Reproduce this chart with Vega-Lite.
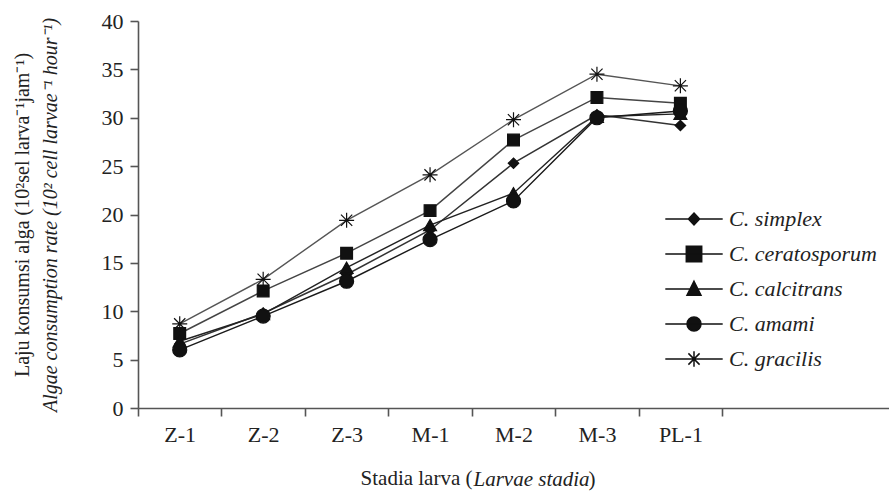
{
  "$schema": "https://vega.github.io/schema/vega-lite/v6.json",
  "width": 751,
  "height": 387,
  "autosize": "none",
  "padding": {"left": 138, "top": 21, "right": 0, "bottom": 85},
  "background": "white",
  "config": {
    "view": {"stroke": null},
    "font": "Liberation Serif",
    "axis": {
      "labelFont": "Liberation Serif",
      "titleFont": "Liberation Serif",
      "labelColor": "#222",
      "titleColor": "#222",
      "titleFontWeight": "normal",
      "domainColor": "#555",
      "tickColor": "#555",
      "domainWidth": 1.6,
      "tickWidth": 1.6,
      "grid": false
    },
    "legend": {
      "labelFont": "Liberation Serif",
      "titleFont": "Liberation Serif"
    }
  },
  "data": {
    "values": [
      {"stage": "Z-1", "species": "C. simplex", "value": 6.6},
      {"stage": "Z-2", "species": "C. simplex", "value": 9.8},
      {"stage": "Z-3", "species": "C. simplex", "value": 13.8},
      {"stage": "M-1", "species": "C. simplex", "value": 18.4},
      {"stage": "M-2", "species": "C. simplex", "value": 25.3},
      {"stage": "M-3", "species": "C. simplex", "value": 30.3},
      {"stage": "PL-1", "species": "C. simplex", "value": 29.2},
      {"stage": "Z-1", "species": "C. ceratosporum", "value": 7.7},
      {"stage": "Z-2", "species": "C. ceratosporum", "value": 12.1},
      {"stage": "Z-3", "species": "C. ceratosporum", "value": 16.0},
      {"stage": "M-1", "species": "C. ceratosporum", "value": 20.4},
      {"stage": "M-2", "species": "C. ceratosporum", "value": 27.7},
      {"stage": "M-3", "species": "C. ceratosporum", "value": 32.1},
      {"stage": "PL-1", "species": "C. ceratosporum", "value": 31.5},
      {"stage": "Z-1", "species": "C. calcitrans", "value": 6.9},
      {"stage": "Z-2", "species": "C. calcitrans", "value": 9.7},
      {"stage": "Z-3", "species": "C. calcitrans", "value": 14.5},
      {"stage": "M-1", "species": "C. calcitrans", "value": 18.9},
      {"stage": "M-2", "species": "C. calcitrans", "value": 22.2},
      {"stage": "M-3", "species": "C. calcitrans", "value": 30.1},
      {"stage": "PL-1", "species": "C. calcitrans", "value": 30.4},
      {"stage": "Z-1", "species": "C. amami", "value": 6.0},
      {"stage": "Z-2", "species": "C. amami", "value": 9.5},
      {"stage": "Z-3", "species": "C. amami", "value": 13.1},
      {"stage": "M-1", "species": "C. amami", "value": 17.4},
      {"stage": "M-2", "species": "C. amami", "value": 21.4},
      {"stage": "M-3", "species": "C. amami", "value": 30.0},
      {"stage": "PL-1", "species": "C. amami", "value": 30.7},
      {"stage": "Z-1", "species": "C. gracilis", "value": 8.7},
      {"stage": "Z-2", "species": "C. gracilis", "value": 13.3},
      {"stage": "Z-3", "species": "C. gracilis", "value": 19.4},
      {"stage": "M-1", "species": "C. gracilis", "value": 24.1},
      {"stage": "M-2", "species": "C. gracilis", "value": 29.8},
      {"stage": "M-3", "species": "C. gracilis", "value": 34.5},
      {"stage": "PL-1", "species": "C. gracilis", "value": 33.3}
    ]
  },
  "layer": [
    {
      "mark": {"type": "line"},
      "encoding": {
        "x": {
          "field": "stage", "type": "nominal",
          "scale": {"type": "band", "domain": ["Z-1", "Z-2", "Z-3", "M-1", "M-2", "M-3", "PL-1"], "paddingInner": 0, "paddingOuter": 1.56, "align": 0},
          "axis": {"orient": "bottom", "title": "Stadia larva (", "labelAngle": 0, "labelFontSize": 22, "tickSize": 8, "labelPadding": 8, "tickBand": "extent", "titleFontSize": 21, "titlePadding": 22, "titleX": 334, "titleAlign": "right", "titleAnchor": null}
        },
        "y": {
          "field": "value", "type": "quantitative",
          "scale": {"domain": [0, 40], "nice": false},
          "axis": {"title": "Laju konsumsi alga (10²sel larva⁻¹jam⁻¹)", "values": [0, 5, 10, 15, 20, 25, 30, 35, 40], "labelFontSize": 22, "tickSize": 8, "labelPadding": 7, "titleFontSize": 20, "titlePadding": 69}
        },
        "color": {
          "field": "species", "type": "nominal",
          "scale": {
            "domain": ["C. simplex", "C. ceratosporum", "C. calcitrans", "C. amami", "C. gracilis"],
            "range": ["#333", "#444", "#222", "#1a1a1a", "#555"]
          },
          "legend": null
        },
        "strokeWidth": {
          "field": "species", "type": "nominal",
          "scale": {
            "domain": ["C. simplex", "C. ceratosporum", "C. calcitrans", "C. amami", "C. gracilis"],
            "range": [1.5, 1.4, 1.8, 2, 1.3]
          },
          "legend": null
        }
      }
    },
    {
      "mark": {"type": "point", "filled": true, "fill": "#111", "stroke": "#111", "strokeWidth": 1.2, "opacity": 1},
      "encoding": {
        "x": {
          "field": "stage", "type": "nominal",
          "axis": {"orient": "bottom", "title": "Larvae stadia", "titleFontStyle": "italic", "labels": false, "ticks": false, "domain": false, "titleFontSize": 21, "titlePadding": 60, "titleX": 335, "titleAlign": "left", "titleAnchor": null}
        },
        "y": {"field": "value", "type": "quantitative", "axis": null},
        "shape": {
          "field": "species", "type": "nominal",
          "scale": {
            "domain": ["C. simplex", "C. ceratosporum", "C. calcitrans", "C. amami", "C. gracilis"],
            "range": ["diamond", "square", "triangle-up", "circle", "M-1,0H1M0,-1V1M-0.75,-0.75L0.75,0.75M-0.75,0.75L0.75,-0.75"]
          },
          "legend": null
        },
        "size": {
          "field": "species", "type": "nominal",
          "scale": {
            "domain": ["C. simplex", "C. ceratosporum", "C. calcitrans", "C. amami", "C. gracilis"],
            "range": [110, 225, 200, 180, 256]
          },
          "legend": null
        }
      }
    },
    {
      "transform": [{"filter": "false"}],
      "mark": {"type": "point", "filled": true, "fill": "#111", "stroke": "#111", "strokeWidth": 1.6, "opacity": 1},
      "encoding": {
        "x": {
          "field": "stage", "type": "nominal",
          "axis": {"orient": "bottom", "title": ")", "labels": false, "ticks": false, "domain": false, "titleFontSize": 21, "titlePadding": 60, "titleX": 450, "titleAlign": "left", "titleAnchor": null}
        },
        "y": {
          "field": "value", "type": "quantitative",
          "axis": {"orient": "left", "title": "Algae consumption rate (10² cell larvae⁻¹ hour⁻¹)", "titleFontStyle": "italic", "titleFontSize": 20, "labels": false, "ticks": false, "domain": false, "titlePadding": 78}
        },
        "shape": {
          "field": "species", "type": "nominal",
          "scale": {
            "domain": ["C. simplex", "C. ceratosporum", "C. calcitrans", "C. amami", "C. gracilis"],
            "range": [
              "M-4.1,0H4.1M0,-0.85L0.8,0L0,0.85L-0.8,0Z",
              "M-4.1,0H4.1M-1.1,-1.1H1.1V1.1H-1.1Z",
              "M-4.1,0H4.1M0,-1.1L1,0.9H-1Z",
              "M-4.1,0H4.1M1,0A1,1,0,1,1,-1,0A1,1,0,1,1,1,0Z",
              "M-4.1,0H4.1M0,-1.1V1.1M-0.8,-0.8L0.8,0.8M-0.8,0.8L0.8,-0.8"
            ]
          },
          "legend": {
            "title": null,
            "orient": "none",
            "legendX": 545,
            "legendY": 187,
            "symbolSize": 196,
            "labelFontSize": 22,
            "labelFontStyle": "italic",
            "labelColor": "#222",
            "labelOffset": 24,
            "rowPadding": 13,
            "labelLimit": 300,
            "symbolOpacity": 1,
            "encode": {
              "symbols": {
                "update": {
                  "fill": {"value": "#111"},
                  "stroke": {"value": "#111"},
                  "strokeWidth": {"value": 1.6},
                  "opacity": {"value": 1},
                  "fillOpacity": {"value": 1},
                  "strokeOpacity": {"value": 1}
                }
              }
            }
          }
        }
      }
    }
  ],
  "resolve": {"scale": {"shape": "independent", "size": "independent"}, "axis": {"x": "independent", "y": "independent"}, "legend": {"shape": "independent"}}
}
